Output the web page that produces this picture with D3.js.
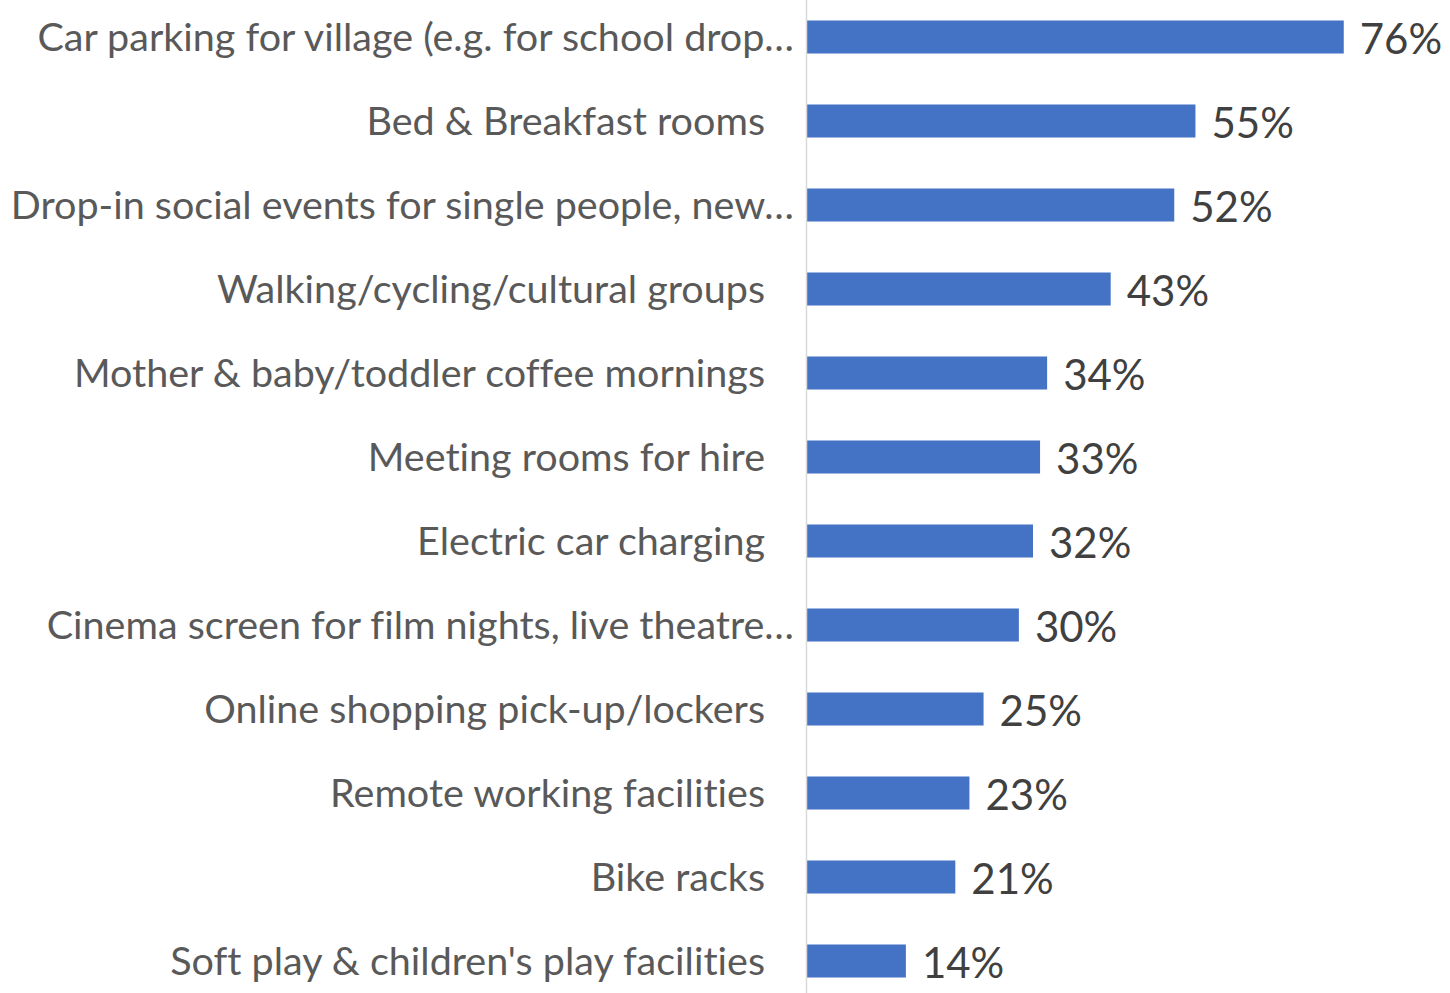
<!DOCTYPE html>
<html>
<head>
<meta charset="utf-8">
<script src="https://cdn.jsdelivr.net/npm/d3@7/dist/d3.min.js"></script>
<style>
  html, body { margin: 0; padding: 0; background: #ffffff; }
  svg { display: block; }
  text { font-variant-ligatures: none; }
</style>
</head>
<body>
<svg id="chart" width="1450" height="993"></svg>
<script>
// Facilities respondents would like to see, share of responses
const categories = [
  "Car parking for village (e.g. for school drop…",
  "Bed & Breakfast rooms",
  "Drop-in social events for single people, new…",
  "Walking/cycling/cultural groups",
  "Mother & baby/toddler coffee mornings",
  "Meeting rooms for hire",
  "Electric car charging",
  "Cinema screen for film nights, live theatre…",
  "Online shopping pick-up/lockers",
  "Remote working facilities",
  "Bike racks",
  "Soft play & children's play facilities"
];
const values = [0.76, 0.55, 0.52, 0.43, 0.34, 0.33, 0.32, 0.30, 0.25, 0.23, 0.21, 0.14];

const svg = d3.select("#chart");
const W = 1450, H = 993;
const axisX = 806.5;

const y = d3.scaleBand()
  .domain(categories)
  .range([-5, 1003])
  .paddingInner(0.607)
  .paddingOuter(0.3035);

const x = d3.scaleLinear()
  .domain([0, 0.8])
  .range([807, 807 + 565]);

const fontFamily = "Lato, 'Open Sans', 'DejaVu Sans', sans-serif";

// bars
svg.append("g")
  .selectAll("rect")
  .data(values)
  .join("rect")
  .attr("x", x(0))
  .attr("y", (d, i) => y(categories[i]))
  .attr("width", d => x(d) - x(0))
  .attr("height", y.bandwidth())
  .attr("fill", "#4472c4");

// vertical category axis line
svg.append("line")
  .attr("x1", axisX).attr("x2", axisX)
  .attr("y1", 0).attr("y2", H)
  .attr("stroke", "#d9d9d9")
  .attr("stroke-width", 1.5);

// category labels (truncated ones run a little further right)
svg.append("g")
  .selectAll("text")
  .data(categories)
  .join("text")
  .attr("x", d => d.endsWith("…") ? 794 : 765)
  .attr("y", d => y(d) + y.bandwidth() / 2)
  .attr("dy", "0.35em")
  .attr("text-anchor", "end")
  .attr("font-family", fontFamily)
  .attr("font-size", 39.5)
  .attr("fill", "#595959")
  .text(d => d);

// value labels
const fmt = d3.format(".0%");
svg.append("g")
  .selectAll("text")
  .data(values)
  .join("text")
  .attr("x", d => x(d) + 16)
  .attr("y", (d, i) => y(categories[i]) + y.bandwidth() / 2 + 2)
  .attr("dy", "0.35em")
  .attr("font-family", fontFamily)
  .attr("font-size", 42)
  .attr("fill", "#404040")
  .text(d => fmt(d));
</script>
</body>
</html>
